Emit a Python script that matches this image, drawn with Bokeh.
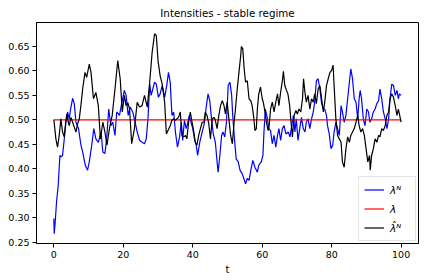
from bokeh.plotting import figure
from bokeh.models import Range1d, FixedTicker, NumeralTickFormatter, Legend, LegendItem
from bokeh.embed import file_html
from bokeh.resources import INLINE

title_text = "Intensities - stable regime"
x_label = "t"
labels = ["λᴺ", "λ", "λ̂ᴺ"]
x_ticks = [0, 20, 40, 60, 80, 100]
y_ticks = [0.25, 0.30, 0.35, 0.40, 0.45, 0.50, 0.55, 0.60, 0.65]

# lambda^N (blue)
lamN_t = [0, 0.1, 0.39, 0.77, 1.25, 1.73, 2.1, 2.5, 3.0, 3.47, 3.95, 4.43, 4.82, 5.4, 5.88, 6.36, 7.1, 7.8, 8.3, 9.05,
          9.7, 10.2, 10.9, 11.5, 12.1, 12.8, 13.6, 14.1, 14.7, 15.2, 15.8, 16.4, 16.96, 17.6, 18.1, 18.9, 19.6, 20.3,
          20.8, 21.4, 21.97, 22.7, 23.4, 24.0, 24.7, 25.4, 26.1, 26.6, 27.1, 27.6, 28.0, 28.5, 29.0, 29.5, 30.1, 30.6,
          31.2, 31.9, 32.5, 33.0, 33.5, 34.0, 34.5, 35.0, 35.6, 36.2, 36.7, 37.1, 37.6, 38.1, 38.5, 39.0, 39.5, 40.0,
          40.5, 41.0, 41.4, 42.0, 42.7, 43.4, 43.8, 44.4, 44.9, 45.4, 45.9, 46.5, 47.0, 47.3, 47.8, 48.3, 48.7, 49.2,
          49.7, 50.2, 50.7, 51.2, 51.5, 52.0, 52.5, 53.1, 53.6, 54.2, 54.7, 55.2, 55.7, 56.2, 56.8, 57.3, 57.9, 58.6,
          59.0, 59.7, 60.2, 60.5, 60.9, 61.5, 61.9, 62.4, 62.9, 63.4, 63.9, 64.4, 64.8, 65.3, 65.8, 66.3, 66.8, 67.5,
          68.0, 68.5, 69.0, 69.4, 69.8, 70.3, 70.8, 71.3, 71.8, 72.3, 72.7, 73.2, 73.7, 74.2, 74.7, 75.1, 75.6, 76.1,
          76.6, 77.1, 77.6, 78.0, 78.5, 78.8, 79.3, 79.8, 80.3, 80.7, 81.2, 81.7, 82.2, 82.7, 83.1, 83.6, 84.1, 84.6,
          85.1, 85.5, 86.0, 86.5, 87.0, 87.5, 87.9, 88.2, 88.6, 89.1, 89.6, 90.1, 90.6, 91.0, 91.5, 92.0, 92.5, 93.0,
          93.5, 93.9, 94.4, 94.9, 95.4, 95.9, 96.4, 96.8, 97.3, 97.8, 98.3, 98.8, 99.2, 99.5, 100.0]
lamN_v = [0.298, 0.267, 0.291, 0.332, 0.366, 0.427, 0.424, 0.427, 0.461, 0.495, 0.516, 0.502, 0.522, 0.544, 0.533,
          0.495, 0.482, 0.448, 0.434, 0.407, 0.397, 0.414, 0.448, 0.482, 0.461, 0.454, 0.475, 0.434, 0.431, 0.461,
          0.522, 0.488, 0.495, 0.468, 0.516, 0.509, 0.536, 0.560, 0.550, 0.509, 0.526, 0.516, 0.495, 0.475, 0.458,
          0.454, 0.451, 0.461, 0.502, 0.573, 0.550, 0.563, 0.577, 0.573, 0.546, 0.553, 0.570, 0.546, 0.570, 0.597,
          0.577, 0.509, 0.516, 0.475, 0.444, 0.465, 0.495, 0.458, 0.499, 0.482, 0.492, 0.509, 0.495, 0.482, 0.461,
          0.448, 0.427, 0.454, 0.475, 0.495, 0.522, 0.553, 0.539, 0.502, 0.471, 0.454, 0.414, 0.393, 0.427, 0.468,
          0.475, 0.465, 0.495, 0.570, 0.577, 0.550, 0.509, 0.461, 0.420, 0.414, 0.397, 0.390, 0.380, 0.369, 0.380,
          0.376, 0.400, 0.417, 0.403, 0.393, 0.407, 0.414, 0.427, 0.475, 0.522, 0.502, 0.482, 0.478, 0.451, 0.468,
          0.444, 0.468, 0.482, 0.458, 0.482, 0.488, 0.471, 0.475, 0.465, 0.488, 0.509, 0.475, 0.502, 0.458, 0.482,
          0.505, 0.482, 0.475, 0.495, 0.502, 0.482, 0.502, 0.516, 0.536, 0.580, 0.584, 0.563, 0.533, 0.522, 0.522,
          0.509, 0.488, 0.471, 0.441, 0.448, 0.475, 0.495, 0.482, 0.468, 0.529, 0.516, 0.495, 0.509, 0.543, 0.577,
          0.604, 0.584, 0.543, 0.536, 0.502, 0.543, 0.560, 0.543, 0.502, 0.488, 0.522, 0.516, 0.495, 0.502, 0.516,
          0.522, 0.533, 0.539, 0.563, 0.543, 0.516, 0.502, 0.482, 0.502, 0.543, 0.573, 0.570, 0.550, 0.560, 0.543,
          0.553, 0.550]

# lambda (red, constant)
lam_t = [0, 100]
lam_v = [0.5, 0.5]

# hat lambda^N (black)
hat_t = [0, 0.58, 1.06, 1.54, 2.02, 2.5, 3.0, 3.4, 3.76, 4.1, 4.43, 4.91, 5.4, 5.88, 6.36, 6.84, 7.32, 7.8, 8.29, 8.96,
         9.44, 10.2, 10.7, 11.4, 12.1, 12.8, 13.4, 14.1, 14.7, 15.3, 16.0, 16.8, 17.6, 18.4, 19.1, 19.7, 20.3, 20.8,
         21.3, 21.8, 22.4, 23.2, 24.0, 24.7, 25.4, 26.1, 26.9, 27.6, 28.3, 29.0, 29.5, 30.0, 30.6, 31.2, 31.9, 32.4,
         33.0, 33.5, 34.0, 34.5, 35.0, 35.4, 35.9, 36.4, 36.9, 37.4, 37.9, 38.3, 38.8, 39.3, 39.8, 40.3, 40.7, 41.2,
         41.7, 42.2, 42.7, 43.2, 43.6, 44.1, 44.6, 45.1, 45.6, 46.1, 46.5, 47.0, 47.5, 48.0, 48.5, 49.0, 49.4, 49.9,
         50.4, 50.9, 51.4, 51.9, 52.3, 52.8, 53.3, 53.8, 54.0, 54.4, 54.8, 55.2, 55.7, 56.2, 56.7, 57.1, 57.6, 57.9,
         58.3, 58.6, 59.0, 59.5, 60.0, 60.3, 60.8, 61.2, 61.7, 62.0, 62.4, 62.9, 63.4, 63.9, 64.4, 64.8, 65.3, 65.8,
         66.1, 66.5, 67.0, 67.4, 67.9, 68.3, 68.7, 69.2, 69.7, 70.1, 70.6, 71.1, 71.6, 71.9, 72.3, 72.7, 73.2, 73.7,
         74.2, 74.7, 75.1, 75.6, 76.1, 76.6, 77.1, 77.6, 78.0, 78.5, 79.0, 79.5, 80.0, 80.4, 80.7, 81.2, 81.7, 82.2,
         82.7, 83.1, 83.6, 84.1, 84.6, 85.1, 85.5, 86.0, 86.5, 87.0, 87.5, 87.9, 88.4, 88.9, 89.4, 89.9, 90.4, 90.9,
         91.1, 91.5, 92.0, 92.5, 93.0, 93.5, 93.9, 94.4, 94.9, 95.4, 95.9, 96.4, 96.8, 97.3, 97.8, 98.3, 98.8, 99.2,
         99.7, 100.0]
hat_v = [0.500, 0.461, 0.444, 0.468, 0.502, 0.475, 0.465, 0.495, 0.512, 0.497, 0.488, 0.505, 0.495, 0.485, 0.475,
         0.492, 0.502, 0.530, 0.563, 0.597, 0.587, 0.614, 0.597, 0.543, 0.556, 0.529, 0.461, 0.495, 0.475, 0.448,
         0.482, 0.509, 0.563, 0.621, 0.584, 0.516, 0.550, 0.529, 0.535, 0.522, 0.451, 0.482, 0.536, 0.526, 0.529,
         0.550, 0.526, 0.577, 0.638, 0.676, 0.672, 0.621, 0.590, 0.573, 0.536, 0.471, 0.480, 0.488, 0.499, 0.502,
         0.499, 0.502, 0.505, 0.516, 0.468, 0.465, 0.468, 0.461, 0.495, 0.516, 0.495, 0.475, 0.454, 0.448, 0.468,
         0.482, 0.495, 0.495, 0.516, 0.509, 0.492, 0.461, 0.502, 0.505, 0.499, 0.482, 0.509, 0.529, 0.539, 0.529,
         0.512, 0.536, 0.502, 0.468, 0.451, 0.495, 0.522, 0.563, 0.597, 0.631, 0.650, 0.645, 0.604, 0.577, 0.580,
         0.543, 0.539, 0.529, 0.502, 0.478, 0.482, 0.522, 0.553, 0.567, 0.543, 0.536, 0.516, 0.495, 0.478, 0.488,
         0.522, 0.536, 0.516, 0.536, 0.553, 0.529, 0.556, 0.580, 0.599, 0.570, 0.560, 0.553, 0.529, 0.495, 0.465,
         0.509, 0.519, 0.512, 0.522, 0.516, 0.543, 0.584, 0.556, 0.536, 0.550, 0.522, 0.543, 0.536, 0.553, 0.533,
         0.563, 0.570, 0.543, 0.516, 0.536, 0.570, 0.584, 0.597, 0.601, 0.612, 0.570, 0.502, 0.468, 0.461, 0.454,
         0.414, 0.403, 0.441, 0.465, 0.454, 0.468, 0.475, 0.482, 0.495, 0.509, 0.488, 0.475, 0.482, 0.468, 0.441,
         0.414, 0.427, 0.397, 0.427, 0.441, 0.461, 0.454, 0.468, 0.465, 0.482, 0.478, 0.488, 0.509, 0.516, 0.543,
         0.553, 0.546, 0.529, 0.509, 0.522, 0.505, 0.495]

FONT = "DejaVu Sans"

p = figure(width=424, height=280, output_backend="svg", toolbar_location=None,
           x_range=Range1d(-5, 105), y_range=Range1d(0.247, 0.699),
           min_border_left=36, min_border_right=6, min_border_bottom=37, min_border_top=0)
p.title.text = title_text
p.title.align = "center"
p.title.text_font = FONT
p.title.text_font_size = "10.3px"
p.title.text_font_style = "normal"
p.title.text_color = "black"
p.title.standoff = 8

p.grid.visible = False
p.outline_line_color = "black"
p.outline_line_width = 1
p.background_fill_color = "white"
p.border_fill_color = "white"

for ax in (p.xaxis[0], p.yaxis[0]):
    ax.axis_line_color = "black"
    ax.major_tick_line_color = "black"
    ax.minor_tick_line_color = None
    ax.major_tick_out = 4
    ax.major_tick_in = 0
    ax.major_label_text_font = FONT
    ax.major_label_text_font_size = "9.5px"
    ax.major_label_text_color = "black"
    ax.major_label_standoff = 3

p.xaxis.ticker = FixedTicker(ticks=x_ticks)
p.yaxis.ticker = FixedTicker(ticks=y_ticks)
p.yaxis.formatter = NumeralTickFormatter(format="0.00")
p.xaxis.axis_label = x_label
p.xaxis.axis_label_text_font = FONT
p.xaxis.axis_label_text_font_size = "10px"
p.xaxis.axis_label_text_font_style = "normal"
p.xaxis.axis_label_text_color = "black"
p.xaxis.axis_label_standoff = 3

r1 = p.line(lamN_t, lamN_v, line_color="#0000ff", line_width=1.2)
r2 = p.line(lam_t, lam_v, line_color="#ff0000", line_width=1.2)
r3 = p.line(hat_t, hat_v, line_color="#000000", line_width=1.2)

legend = Legend(items=[LegendItem(label=labels[0], renderers=[r1]),
                       LegendItem(label=labels[1], renderers=[r2]),
                       LegendItem(label=labels[2], renderers=[r3])],
                location="bottom_right")
legend.label_text_font = FONT
legend.label_text_font_size = "10.5px"
legend.label_text_font_style = "italic"
legend.label_text_color = "black"
legend.border_line_color = "#cccccc"
legend.border_line_width = 1
legend.background_fill_color = "white"
legend.background_fill_alpha = 0.8
legend.margin = 2
legend.padding = 5
legend.spacing = 4
legend.glyph_width = 20
legend.glyph_height = 15
legend.label_standoff = 6
legend.label_height = 15
p.add_layout(legend)

open("out.html", "w").write(file_html(p, INLINE))
